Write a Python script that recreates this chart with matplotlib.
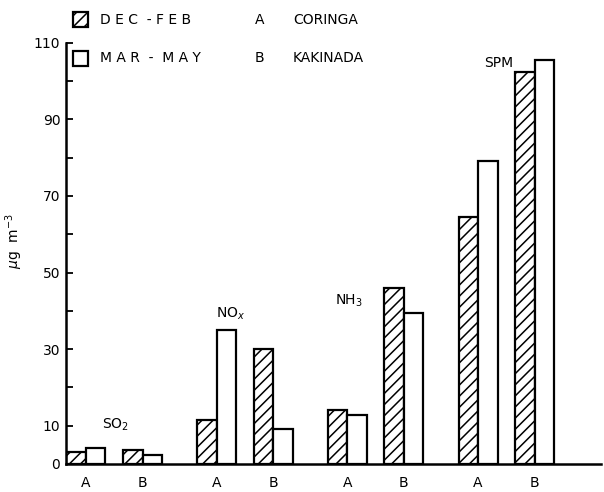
import matplotlib.pyplot as plt
import numpy as np

# Data (ug m-3)
pollutants = ['SO$_2$', 'NO$_x$', 'NH$_3$', 'SPM']
sites = ['A', 'B']
dec_feb = [[3.0, 3.6], [11.5, 30.0], [14.2, 46.0], [64.5, 102.5]]
mar_may = [[4.1, 2.3], [35.0, 9.0], [12.7, 39.5], [79.0, 105.5]]
yticks = [0, 10, 20, 30, 40, 50, 60, 70, 80, 90, 100, 110]
ylabels = ['0', '10', '', '30', '', '50', '', '70', '', '90', '', '110']

plt.rcParams['font.family'] = 'DejaVu Sans'
plt.rcParams['hatch.linewidth'] = 1.1

fig = plt.figure(figsize=(6.04, 4.92), dpi=100)
ax = fig.add_axes([0.109, 0.057, 0.886, 0.856])

width = 1.0
group_gap = 6.7
site_gap = 2.9

centers = []
for g in range(len(pollutants)):
    for s in range(len(sites)):
        c = g * group_gap + s * site_gap
        centers.append(c)
        ax.bar(c - width / 2, dec_feb[g][s], width, color='white', edgecolor='black',
               hatch='///', linewidth=1.6)
        ax.bar(c + width / 2, mar_may[g][s], width, color='white', edgecolor='black',
               linewidth=1.6)

# pollutant labels
label_pos = [(1.5, 8.0), (7.4, 37.0), (13.5, 40.5), (21.15, 103.0)]
for name, (x, y) in zip(pollutants, label_pos):
    ax.text(x, y, name, fontsize=10, ha='center', va='bottom')

ax.set_xlim(-1.03, 26.4)
ax.set_ylim(0, 110)
ax.set_xticks(centers)
ax.set_xticklabels(sites * len(pollutants), fontsize=10)
ax.tick_params(axis='x', length=0, pad=9)
ax.set_yticks(yticks)
ax.set_yticklabels(ylabels, fontsize=10)
ax.tick_params(axis='y', direction='in', length=5, width=1.3, pad=4)
ax.spines['top'].set_visible(False)
ax.spines['right'].set_visible(False)
ax.spines['left'].set_linewidth(1.8)
ax.spines['bottom'].set_linewidth(1.8)
ax.set_ylabel('$\\mu$g  m$^{-3}$', fontsize=10)
ax.yaxis.set_label_coords(-0.077, 0.53)

# legend drawn as figure text/boxes
fig.patches.append(plt.Rectangle((73 / 604, 1 - 27 / 492), 15 / 604, 15 / 492,
                                 transform=fig.transFigure, facecolor='white',
                                 edgecolor='black', hatch='///', linewidth=1.6))
fig.patches.append(plt.Rectangle((73 / 604, 1 - 66 / 492), 15 / 604, 15 / 492,
                                 transform=fig.transFigure, facecolor='white',
                                 edgecolor='black', linewidth=1.6))
fig.text(100 / 604, 1 - 20 / 492, 'D E C  - F E B', fontsize=10, va='center')
fig.text(100 / 604, 1 - 58 / 492, 'M A R  -  M A Y', fontsize=10, va='center')
fig.text(255 / 604, 1 - 20 / 492, 'A', fontsize=10, va='center')
fig.text(255 / 604, 1 - 58 / 492, 'B', fontsize=10, va='center')
fig.text(293 / 604, 1 - 20 / 492, 'CORINGA', fontsize=10, va='center')
fig.text(293 / 604, 1 - 58 / 492, 'KAKINADA', fontsize=10, va='center')

plt.savefig('out.png', dpi=100)
